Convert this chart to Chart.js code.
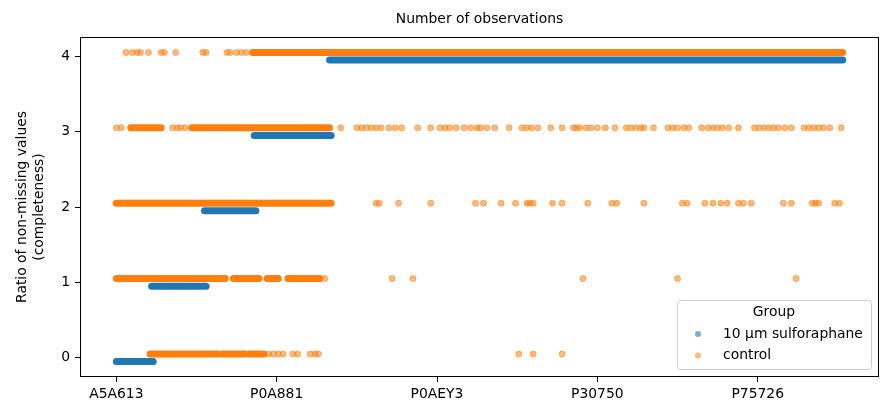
<!DOCTYPE html>
<html>
<head>
<meta charset="utf-8">
<script src="https://cdn.jsdelivr.net/npm/chart.js@4/dist/chart.umd.min.js"></script>
<style>
  html, body { margin: 0; padding: 0; background: #fff; }
  #wrap { width: 892px; height: 420px; position: relative; }
</style>
</head>
<body>
<div id="wrap"><canvas id="chart"></canvas></div>
<script>
// CONFIG
const TITLE = 'Number of observations';
const Y_LABEL = ['Ratio of non-missing values', '(completeness)'];
const GROUPS = ['10 µm sulforaphane', 'control'];
const N_PROTEINS = 454;

// X TICKS (protein ids at category index)
const tickIndex = [0, 100, 200, 300, 400];
const tickLabels = ['A5A613', 'P0A881', 'P0AEY3', 'P30750', 'P75726'];
const yTicks = [0, 1, 2, 3, 4];

// SULFORAPHANE: contiguous runs of proteins [start, end] per completeness level
const sulfRuns0 = [[0, 23]];
const sulfRuns1 = [[22, 56]];
const sulfRuns2 = [[55, 87]];
const sulfRuns3 = [[86, 134]];
const sulfRuns4 = [[133, 453]];

// CONTROL: dense runs [start, end] per level
const ctrlRuns0 = [[21, 63], [66, 80], [83, 92]];
const ctrlRuns1 = [[0, 68], [73, 89], [94, 101], [107, 127]];
const ctrlRuns2 = [[0, 134]];
const ctrlRuns3 = [[9, 28], [47, 133]];
const ctrlRuns4 = [[85, 453]];

// CONTROL: single proteins per level
const ctrlPts0 = [95, 98, 101, 104, 110, 113, 121, 124, 126, 251, 260, 278];
const ctrlPts1 = [130, 172, 185, 291, 350, 424];
const ctrlPts2 = [162, 164, 176, 196, 224, 229, 240, 249, 256, 258, 260, 272, 278, 294,
  309, 312, 329, 353, 356, 367, 372, 377, 381, 388, 391, 396, 416, 421, 434, 436, 438, 448, 451];
const ctrlPts3 = [0, 3, 35, 38, 40, 43, 140, 150, 153, 156, 159, 162, 165, 170, 174, 178,
  188, 196, 202, 205, 208, 212, 217, 221, 225, 227, 231, 236, 245, 253, 256, 259, 263,
  271, 278, 285, 287, 289, 293, 296, 300, 305, 311, 318, 321, 324, 327, 329, 335, 344,
  347, 350, 354, 357, 365, 369, 372, 375, 378, 382, 388, 398, 401, 404, 407, 410, 413,
  417, 421, 429, 432, 435, 438, 441, 445, 452];
const ctrlPts4 = [6, 10, 13, 15, 20, 28, 30, 37, 54, 56, 69, 71, 75, 78, 81];

// STYLE
const BLUE = '#1f77b4';
const ORANGE = '#ff7f0e';
const BLUE_A = 'rgba(31,119,180,0.6)';
const ORANGE_A = 'rgba(255,127,14,0.55)';
const DODGE = 0.05;
const FONT = '"DejaVu Sans", sans-serif';
const FONT_SIZE = 13.9;

const sulfRuns = [sulfRuns0, sulfRuns1, sulfRuns2, sulfRuns3, sulfRuns4];
const ctrlRuns = [ctrlRuns0, ctrlRuns1, ctrlRuns2, ctrlRuns3, ctrlRuns4];
const ctrlPts = [ctrlPts0, ctrlPts1, ctrlPts2, ctrlPts3, ctrlPts4];

function runDatasets(runsByLevel, color, offset) {
    const out = [];
    runsByLevel.forEach((runs, level) => {
        runs.forEach(([s, e]) => {
            out.push({
                data: [{ x: s, y: level + offset }, { x: e, y: level + offset }],
                showLine: true,
                borderColor: color,
                borderWidth: 7,
                borderCapStyle: 'round',
                pointRadius: 0,
                pointHoverRadius: 0
            });
        });
    });
    return out;
}

const ctrlPointData = [];
ctrlPts.forEach((list, level) => list.forEach(i => ctrlPointData.push({ x: i, y: level + DODGE })));

const datasets = [
    ...runDatasets(sulfRuns, BLUE, -DODGE),
    ...runDatasets(ctrlRuns, ORANGE, DODGE),
    {
        data: ctrlPointData,
        backgroundColor: ORANGE_A,
        borderColor: ORANGE_A,
        borderWidth: 1,
        pointRadius: 3,
        pointHoverRadius: 3
    }
];

// Plot area box (matplotlib style frame)
const AREA = { left: 80, top: 37, right: 879, bottom: 377 };

const decorPlugin = {
    id: 'decor',
    afterDraw(chart) {
        const ctx = chart.ctx;
        const a = chart.chartArea;
        ctx.save();
        // frame
        ctx.strokeStyle = '#000';
        ctx.lineWidth = 1;
        ctx.strokeRect(a.left + 0.5, a.top + 0.5, a.right - a.left - 1, a.bottom - a.top - 1);

        // title
        ctx.fillStyle = '#000';
        ctx.font = FONT_SIZE + 'px ' + FONT;
        ctx.textAlign = 'center';
        ctx.textBaseline = 'middle';
        ctx.fillText(TITLE, (a.left + a.right) / 2, 19);

        // y label
        ctx.save();
        ctx.translate(31, (a.top + a.bottom) / 2);
        ctx.rotate(-Math.PI / 2);
        ctx.fillText(Y_LABEL[0], 0, -8.5);
        ctx.fillText(Y_LABEL[1], 0, 8.5);
        ctx.restore();

        // legend
        const lx = 677, ly = 300, lw = 194, lh = 69;
        ctx.fillStyle = 'rgba(255,255,255,0.8)';
        ctx.strokeStyle = '#cccccc';
        ctx.beginPath();
        ctx.roundRect(lx + 0.5, ly + 0.5, lw, lh, 3);
        ctx.fill();
        ctx.stroke();
        ctx.fillStyle = '#000';
        ctx.textAlign = 'center';
        ctx.fillText('Group', lx + lw / 2, ly + 12);
        ctx.textAlign = 'left';
        const colors = [BLUE_A, ORANGE_A];
        GROUPS.forEach((g, i) => {
            const yy = ly + 34 + i * 21.5;
            ctx.fillStyle = colors[i];
            ctx.beginPath();
            ctx.arc(lx + 21, yy, 3, 0, Math.PI * 2);
            ctx.fill();
            ctx.fillStyle = '#000';
            ctx.fillText(g, lx + 46, yy);
        });
        ctx.restore();
    }
};

const tickGrid = { display: true, drawOnChartArea: false, drawTicks: true, tickLength: 5, tickColor: '#000', tickWidth: 1 };

new Chart(document.getElementById('chart'), {
    type: 'scatter',
    data: { datasets },
    options: {
        responsive: true,
        maintainAspectRatio: false,
        animation: false,
        layout: { padding: { top: AREA.top, right: 892 - AREA.right, left: 0, bottom: 0 } },
        plugins: { legend: { display: false }, tooltip: { enabled: false } },
        scales: {
            x: {
                type: 'linear',
                min: -0.05 * (N_PROTEINS - 1),
                max: (N_PROTEINS - 1) * 1.05,
                afterFit(scale) { scale.height = 420 - AREA.bottom; },
                afterBuildTicks(scale) {
                    scale.ticks = tickIndex.map(v => ({ value: v }));
                },
                grid: tickGrid,
                border: { display: false },
                ticks: {
                    color: '#000',
                    font: { family: FONT, size: FONT_SIZE },
                    padding: 4,
                    maxRotation: 0,
                    autoSkip: false,
                    callback: (v) => tickLabels[tickIndex.indexOf(v)] ?? ''
                }
            },
            y: {
                min: -0.255,
                max: 4.255,
                afterFit(scale) { scale.width = AREA.left; },
                afterBuildTicks(scale) {
                    scale.ticks = yTicks.map(v => ({ value: v }));
                },
                grid: tickGrid,
                border: { display: false },
                ticks: {
                    color: '#000',
                    font: { family: FONT, size: FONT_SIZE },
                    padding: 5,
                    callback: (v) => String(v)
                }
            }
        }
    },
    plugins: [decorPlugin]
});
</script>
</body>
</html>
